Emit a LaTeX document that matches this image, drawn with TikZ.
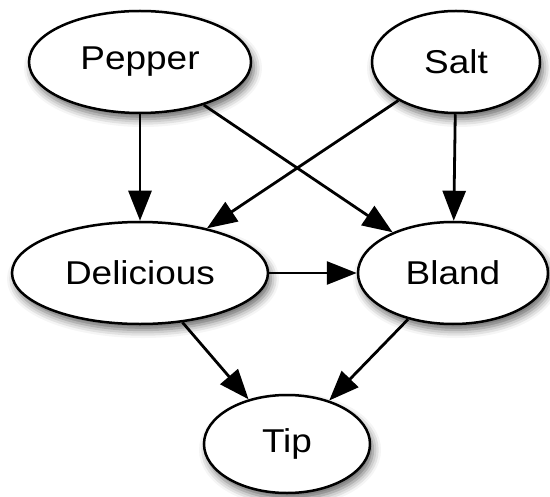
\documentclass[tikz,border=0pt]{standalone}
\usepackage{fontspec}
\setmainfont[FakeStretch=1.12]{Liberation Sans}
\usetikzlibrary{shapes.geometric,arrows.meta,shadows.blur}
\begin{document}
\begin{tikzpicture}[x=1bp,y=-1bp,
  var/.style={ellipse,draw=black,line width=2.5bp,fill=white,inner sep=0pt,
    font=\fontsize{33bp}{38bp}\selectfont,
    blur shadow={shadow xshift=3bp,shadow yshift=-6bp,shadow blur radius=8bp,shadow opacity=60}},
  edge/.style={draw=black,line width=2.8bp,-{Triangle[length=30bp,width=23bp]}}]
\useasboundingbox (0,0) rectangle (550,497);
\node[var,minimum width=222bp,minimum height=102bp] (pepper) at (140,62) {Pepper};
\node[var,minimum width=168bp,minimum height=102bp] (salt) at (456,62) {Salt};
\node[var,minimum width=256bp,minimum height=102bp] (del) at (140,273) {Delicious};
\node[var,minimum width=190bp,minimum height=102bp] (bland) at (453,273) {Bland};
\node[var,minimum width=166bp,minimum height=98bp] (tip) at (287,444) {Tip};
\draw[edge] (pepper) -- (del);
\draw[edge] (pepper) -- (bland);
\draw[edge] (salt) -- (del);
\draw[edge] (salt) -- (bland);
\draw[edge] (del) -- (bland);
\draw[edge] (del) -- (tip);
\draw[edge] (bland) -- (tip);
\end{tikzpicture}
\end{document}
